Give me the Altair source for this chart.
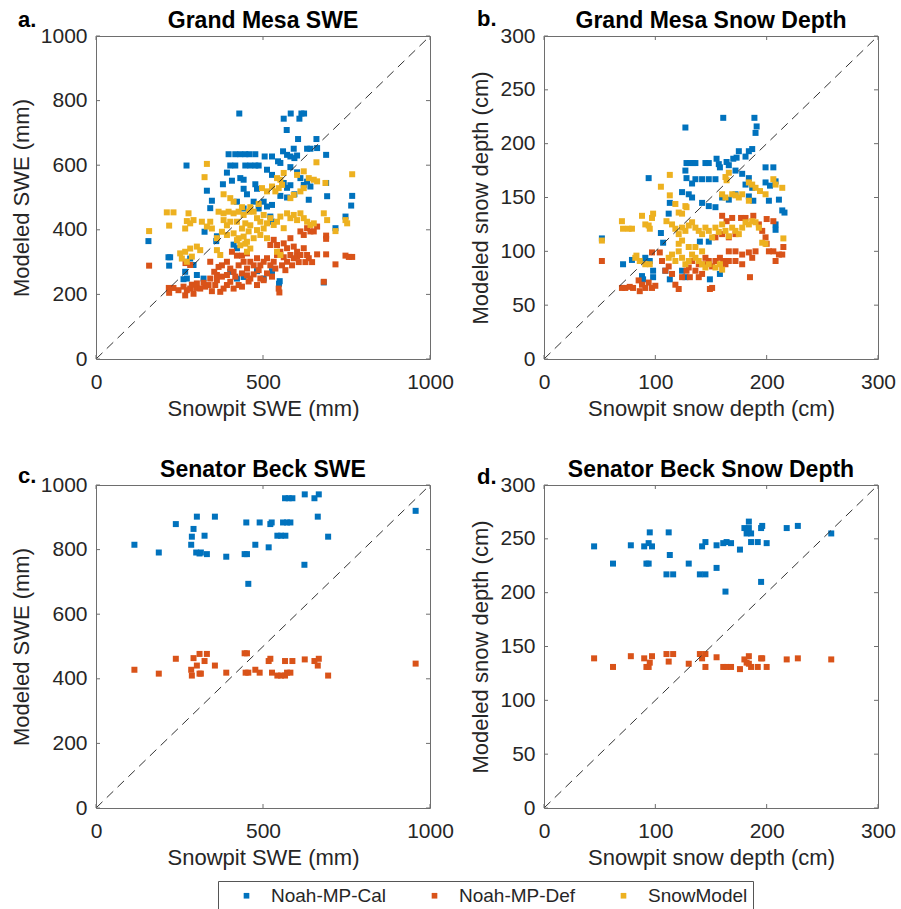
import altair as alt
import pandas as pd

FONT = "Liberation Sans"
TXT = "#262626"
FRAME = "#6e6e6e"
W, H = 334, 323

series_names = ["Noah-MP-Cal", "Noah-MP-Def", "SnowModel"]
series_colors = ["#0072BD", "#D95319", "#EDB120"]

swe_x_ticks = [0, 500, 1000]
swe_y_ticks = [0, 200, 400, 600, 800, 1000]
depth_x_ticks = [0, 100, 200, 300]
depth_y_ticks = [0, 50, 100, 150, 200, 250, 300]

# ---- Grand Mesa SWE (snowpit mm, modeled mm) ----
gm_swe_cal = [(429,760),(562,744),(583,760),(609,744),(615,760),(623,760),(571,709),(605,681),(660,681),(632,651),(642,651),(662,653),(560,643),(592,651),(572,632),(582,627),(602,630),(594,622),(689,632),(397,634),(417,634),(432,634),(447,634),(459,634),(477,634),(505,627),(527,627),(402,599),(417,599),(447,599),(462,599),(477,599),(487,599),(271,599),(545,612),(552,607),(512,586),(527,570),(582,594),(602,578),(392,577),(407,552),(432,560),(442,555),(380,541),(442,527),(452,510),(477,541),(482,527),(332,521),(347,490),(342,467),(562,545),(572,530),(582,538),(552,505),(572,500),(594,510),(612,560),(632,549),(642,534),(622,539),(689,545),(692,504),(637,493),(767,505),(764,475),(502,487),(512,472),(527,477),(472,487),(487,466),(422,487),(442,466),(747,441),(717,405),(325,394),(157,365),(360,365),(362,380),(412,354),(422,343),(522,441),(527,425),(217,315),(222,315),(219,289),(272,301),(282,311),(292,291),(267,270),(272,249),(262,247),(302,260),(322,249),(402,270),(422,249),(442,254),(482,272),(502,249),(527,272),(550,241),(548,233),(682,237)]
gm_swe_def = [(159,289),(218,220),(219,205),(232,220),(262,224),(267,197),(272,213),(282,218),(292,202),(300,220),(302,234),(312,218),(327,224),(337,229),(347,210),(357,229),(372,208),(362,244),(382,218),(392,229),(402,239),(412,218),(427,229),(437,224),(342,301),(354,270),(362,260),(342,249),(377,290),(392,301),(402,280),(412,270),(427,290),(442,301),(452,280),(462,301),(472,290),(482,312),(492,290),(502,301),(512,312),(522,290),(532,301),(492,249),(502,244),(482,229),(452,259),(462,249),(522,353),(532,369),(542,353),(552,332),(562,358),(572,343),(582,374),(592,348),(602,332),(582,322),(592,312),(572,301),(602,317),(612,395),(622,384),(632,405),(642,395),(652,395),(662,410),(622,343),(612,322),(632,322),(637,312),(662,324),(689,382),(689,372),(689,324),(717,293),(747,320),(757,316),(767,316),(682,239),(547,218),(549,206),(407,332),(422,320),(437,320),(452,327),(268,297),(282,291),(392,260),(417,255),(437,265),(457,240),(472,262),(487,275),(512,265),(527,255),(537,280),(557,290),(567,275),(587,290),(607,300),(627,300),(647,300),(542,322),(562,315),(377,255),(367,285),(322,236),(287,230),(247,213)]
gm_swe_snow = [(159,396),(212,454),(232,454),(219,413),(277,451),(272,427),(267,404),(282,420),(292,430),(317,425),(342,425),(347,404),(332,410),(325,563),(332,604),(382,510),(367,456),(382,451),(397,456),(412,451),(427,456),(442,446),(457,456),(382,430),(392,414),(402,425),(422,425),(437,404),(447,420),(462,414),(362,374),(377,394),(392,384),(412,389),(427,374),(442,379),(452,363),(472,374),(402,498),(412,487),(422,368),(432,352),(447,357),(462,342),(452,332),(482,436),(492,425),(502,446),(512,420),(522,436),(532,415),(542,425),(552,441),(482,399),(492,384),(502,404),(512,374),(497,529),(512,519),(527,534),(537,519),(547,529),(557,539),(542,560),(552,555),(562,576),(572,451),(582,436),(592,446),(602,430),(612,451),(622,436),(632,425),(642,415),(652,420),(582,498),(592,508),(612,519),(622,529),(602,570),(622,581),(637,560),(652,555),(662,550),(660,609),(687,545),(682,451),(692,430),(717,396),(747,430),(752,420),(767,572),(252,327),(267,332),(282,342),(302,348),(257,311),(272,301),(287,317),(362,337),(372,322),(542,332),(552,322),(312,337),(462,470),(472,456),(487,480),(562,405),(457,395),(437,470)]

# ---- Grand Mesa snow depth (snowpit cm, modeled cm) ----
gm_depth_cal = [(161,224),(189,224),(127,215),(191,216),(190,210),(187,195),(184,193),(175,193),(170,186),(173,187),(181,188),(128,182),(131,182),(134,182),(136,182),(145,182),(148,182),(155,186),(157,181),(158,178),(164,183),(166,180),(199,178),(206,178),(94,168),(127,175),(128,168),(136,167),(142,167),(148,167),(154,167),(133,163),(172,175),(178,172),(184,168),(181,162),(187,159),(199,164),(203,161),(208,165),(124,155),(130,153),(133,150),(142,145),(148,142),(154,141),(160,150),(166,148),(172,153),(184,151),(188,147),(202,147),(211,148),(214,138),(216,136),(113,145),(112,135),(105,117),(107,108),(140,109),(148,109),(208,125),(208,120),(52,112),(71,88),(79,92),(88,91),(91,94),(95,91),(88,77),(89,74),(98,76),(98,82),(109,82),(113,74),(124,82),(127,76),(149,74),(158,79)]
gm_depth_def = [(52,91),(70,66),(73,66),(77,67),(80,66),(85,73),(88,69),(86,63),(91,66),(94,71),(97,66),(100,68),(97,99),(104,99),(106,91),(109,82),(112,86),(115,79),(118,69),(121,65),(124,76),(128,82),(131,76),(136,82),(139,76),(142,79),(145,88),(148,91),(151,86),(154,91),(158,94),(161,91),(149,65),(151,66),(160,133),(164,128),(169,131),(177,131),(181,131),(188,133),(193,125),(200,130),(206,128),(154,113),(160,116),(166,113),(172,116),(166,100),(172,100),(178,97),(184,99),(190,100),(187,94),(196,119),(199,113),(200,107),(202,100),(206,100),(211,97),(215,104),(214,97),(208,91),(185,76),(172,91),(178,88),(133,91),(139,88),(130,85),(145,94),(163,88),(166,91)]
gm_depth_snow = [(52,110),(70,128),(71,121),(76,121),(79,121),(88,133),(91,125),(94,124),(97,131),(98,135),(95,121),(105,160),(113,171),(113,152),(118,144),(121,136),(124,135),(127,142),(128,141),(110,128),(115,125),(118,121),(121,116),(124,122),(127,119),(130,124),(133,127),(136,122),(139,119),(142,116),(145,122),(148,119),(151,113),(154,122),(157,118),(160,125),(163,119),(166,114),(169,122),(172,119),(175,116),(178,122),(181,127),(184,125),(187,128),(190,127),(193,122),(166,173),(163,169),(164,166),(160,153),(163,150),(169,153),(172,152),(175,150),(178,153),(184,147),(187,162),(190,159),(184,164),(194,156),(199,153),(206,167),(208,162),(214,159),(215,112),(196,108),(199,107),(112,94),(115,97),(118,91),(121,100),(124,94),(127,88),(130,91),(133,97),(136,94),(139,91),(142,88),(145,85),(148,88),(154,85),(160,83),(158,88),(82,94),(86,91),(91,88),(95,88),(83,96),(121,107),(124,110),(130,104),(136,104),(142,100)]

# ---- Senator Beck SWE ----
sb_swe_cal = [(115,815),(188,791),(239,879),(285,815),(287,840),(292,864),(302,902),(300,791),(310,788),(314,791),(332,786),(325,843),(356,902),(390,778),(445,786),(452,786),(450,884),(456,694),(477,815),(490,884),(517,807),(522,879),(526,884),(543,843),(554,843),(567,843),(560,884),(572,884),(582,884),(566,959),(577,959),(588,959),(625,971),(654,959),(667,971),(624,753),(664,902),(695,840),(957,920)]
sb_swe_def = [(115,428),(188,416),(239,462),(285,428),(287,410),(292,464),(302,441),(310,416),(314,416),(310,477),(325,455),(332,477),(356,441),(390,419),(445,479),(452,479),(448,419),(456,419),(477,428),(490,419),(517,455),(522,462),(527,419),(543,410),(554,410),(566,410),(572,419),(582,419),(566,455),(588,455),(625,460),(654,455),(667,462),(664,441),(695,410),(957,447)]

# ---- Senator Beck snow depth ----
sb_depth_cal = [(45,243),(62,227),(78,244),(90,243),(94,246),(95,256),(97,243),(92,227),(94,227),(110,217),(116,217),(112,256),(113,235),(130,227),(140,217),(145,217),(142,243),(145,247),(155,244),(155,223),(161,246),(164,247),(168,246),(163,201),(176,240),(180,260),(184,266),(182,255),(186,255),(184,260),(186,247),(192,247),(195,260),(196,262),(195,210),(200,246),(218,260),(228,262),(258,255)]
sb_depth_def = [(45,139),(62,131),(78,141),(90,139),(92,131),(94,131),(95,135),(97,141),(110,143),(112,136),(116,143),(130,134),(140,143),(145,143),(142,139),(145,131),(155,140),(161,131),(164,131),(168,131),(176,129),(180,138),(184,141),(182,135),(186,131),(184,134),(192,131),(195,139),(196,139),(200,131),(218,138),(228,139),(258,138)]

color_scale = alt.Scale(domain=series_names, range=series_colors)


def panel(groups, vmax, xt, yt, xtitle, ytitle, title, letter, ldx, ldy):
    rows = []
    for name, pts in groups:
        for o, m in pts:
            rows.append({"obs": o, "mod": m, "series": name})
    df = pd.DataFrame(rows)
    xs = alt.Scale(domain=[0, vmax], nice=False, zero=False)
    ys = alt.Scale(domain=[0, vmax], nice=False, zero=False)

    pts = alt.Chart(df).mark_point(shape="square", filled=True, size=36, opacity=1, strokeWidth=0).encode(
        x=alt.X("obs:Q", scale=xs, axis=alt.Axis(values=xt, title=xtitle, format="d")),
        y=alt.Y("mod:Q", scale=ys, axis=alt.Axis(values=yt, title=ytitle, format="d")),
        color=alt.Color("series:N", scale=color_scale, legend=alt.Legend(title=" ")),
    )
    one = alt.Chart(pd.DataFrame({"obs": [0, vmax], "mod": [0, vmax]})).mark_line(
        color="#333333", strokeDash=[9, 6], strokeWidth=1
    ).encode(x=alt.X("obs:Q", scale=xs), y=alt.Y("mod:Q", scale=ys))

    xdf = pd.DataFrame({"obs": xt})
    ydf = pd.DataFrame({"mod": yt})
    tb = alt.Chart(xdf).mark_rule(color=FRAME, strokeWidth=1).encode(
        x=alt.X("obs:Q", scale=xs), y=alt.value(H), y2=alt.value(H - 4))
    tt = alt.Chart(xdf).mark_rule(color=FRAME, strokeWidth=1).encode(
        x=alt.X("obs:Q", scale=xs), y=alt.value(0), y2=alt.value(4))
    tl = alt.Chart(ydf).mark_rule(color=FRAME, strokeWidth=1).encode(
        y=alt.Y("mod:Q", scale=ys), x=alt.value(0), x2=alt.value(4))
    tr = alt.Chart(ydf).mark_rule(color=FRAME, strokeWidth=1).encode(
        y=alt.Y("mod:Q", scale=ys), x=alt.value(W - 4), x2=alt.value(W))

    lab = alt.Chart(alt.Data(values=[{"k": 1}])).mark_text(
        text=letter, align="left", baseline="alphabetic", font=FONT,
        fontSize=22, fontWeight="bold", color="black"
    ).encode(x=alt.value(ldx), y=alt.value(ldy))
    ttl = alt.Chart(alt.Data(values=[{"k": 1}])).mark_text(
        text=title, align="center", baseline="alphabetic", font=FONT,
        fontSize=23, fontWeight="bold", color="black"
    ).encode(x=alt.value(W / 2), y=alt.value(-8))

    return alt.layer(pts, one, tb, tt, tl, tr, lab, ttl).properties(width=W, height=H)


pa = panel([(series_names[0], gm_swe_cal), (series_names[1], gm_swe_def), (series_names[2], gm_swe_snow)],
           1000, swe_x_ticks, swe_y_ticks, "Snowpit SWE (mm)", "Modeled SWE (mm)", "Grand Mesa SWE", "a.", -78, -9)
pb = panel([(series_names[0], gm_depth_cal), (series_names[1], gm_depth_def), (series_names[2], gm_depth_snow)],
           300, depth_x_ticks, depth_y_ticks, "Snowpit snow depth (cm)", "Modeled snow depth (cm)",
           "Grand Mesa Snow Depth", "b.", -67, -10)
pc = panel([(series_names[0], sb_swe_cal), (series_names[1], sb_swe_def)],
           1000, swe_x_ticks, swe_y_ticks, "Snowpit SWE (mm)", "Modeled SWE (mm)", "Senator Beck SWE", "c.", -78, -2)
pd_ = panel([(series_names[0], sb_depth_cal), (series_names[1], sb_depth_def)],
            300, depth_x_ticks, depth_y_ticks, "Snowpit snow depth (cm)", "Modeled snow depth (cm)",
            "Senator Beck Snow Depth", "d.", -67, -1)

chart = alt.concat(pa, pb, pc, pd_, columns=2, spacing={"row": 126, "column": 114}, bounds="flush").resolve_scale(
    color="shared"
).properties(
    padding={"left": 9, "top": 7, "right": 4, "bottom": 0},
    background="white",
).configure_view(
    stroke=FRAME, strokeWidth=1
).configure_axis(
    domain=False, ticks=False, grid=False, labelFont=FONT, titleFont=FONT,
    labelFontSize=21, titleFontSize=22, titleFontWeight="normal",
    labelColor=TXT, titleColor=TXT, labelFlush=False, labelOverlap=False,
).configure_axisX(
    labelPadding=12, titlePadding=6
).configure_axisY(
    labelPadding=9, titlePadding=7
).configure_legend(
    orient="none", legendX=122, legendY=845, direction="horizontal",
    titleOrient="left", titlePadding=14, titleFontSize=19, titleFont=FONT,
    symbolType="square", symbolSize=32, symbolStrokeWidth=0, symbolOpacity=1,
    labelFontSize=19, labelFont=FONT, labelColor=TXT, labelOffset=15,
    columnPadding=38, padding=5, strokeColor="#555555", fillColor="white",
)

chart.save("out.html", embed_options={"renderer": "svg", "actions": False})
